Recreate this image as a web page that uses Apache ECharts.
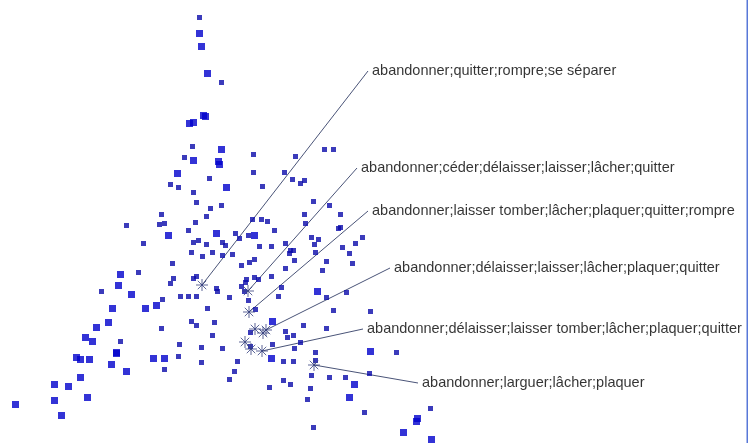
<!DOCTYPE html>
<html>
<head>
<meta charset="utf-8">
<script src="https://cdn.jsdelivr.net/npm/echarts@6/dist/echarts.min.js"></script>
<style>
html,body{margin:0;padding:0;background:#fff;}
#c{width:749px;height:443px;}
</style>
</head>
<body>
<div id="c"></div>
<script>
// Point positions (horizontal position, vertical position from the top)
const largePoints = [
[199,33],[201,46],[207,73],[203,115],[205,116],[189,123],[193,122],[221,149],[193,160],[218,161],[219,164],[177,173],[226,187],
[216,233],[168,235],[254,235],[120,274],[118,285],[131,294],[112,308],[145,308],[156,305],[108,322],[96,327],[85,337],[92,341],
[116,352],[116,353],[76,357],[80,359],[89,359],[111,364],[126,371],[153,358],[164,358],[80,377],[54,384],[68,386],[54,400],
[87,397],[15,404],[61,415],[317,291],[272,321],[271,358],[370,351],[354,384],[349,397],[417,418],[416,421],[403,432],[431,439]
];
const smallPoints = [
[199,17],[221,82],[192,146],[184,157],[253,154],[295,156],[324,149],[333,149],[170,184],[178,187],[209,178],[253,172],[284,172],
[262,186],[292,179],[300,183],[304,180],[193,192],[196,202],[210,208],[221,205],[161,214],[206,216],[313,201],[329,205],[304,214],
[340,214],[252,219],[261,219],[267,221],[274,230],[305,223],[338,228],[340,227],[126,225],[159,224],[164,223],[195,222],[188,230],
[235,233],[248,235],[239,238],[143,243],[193,242],[198,240],[206,244],[222,242],[225,245],[191,252],[202,256],[212,252],[222,255],
[232,254],[259,246],[271,246],[285,243],[311,237],[318,239],[314,244],[290,250],[293,250],[289,253],[294,260],[315,252],[342,247],
[355,243],[362,237],[349,253],[326,261],[352,263],[322,270],[241,265],[249,262],[254,259],[285,268],[271,276],[254,277],[246,279],
[245,282],[241,286],[258,279],[281,287],[216,288],[217,291],[172,263],[138,272],[173,278],[170,283],[193,278],[196,276],[101,291],
[162,299],[180,296],[188,296],[196,296],[229,297],[248,300],[244,291],[255,309],[207,308],[278,296],[326,297],[346,292],
[333,310],[370,311],[161,328],[191,321],[196,325],[214,322],[212,335],[179,344],[178,356],[201,347],[201,362],[222,348],[120,341],
[164,369],[237,361],[234,371],[229,379],[285,331],[287,337],[293,335],[303,325],[326,328],[300,342],[294,348],[272,344],[250,332],
[250,346],[283,361],[293,361],[315,352],[315,360],[311,375],[329,377],[345,377],[369,373],[396,352],[283,380],[290,384],[269,387],
[310,388],[307,399],[364,412],[313,427],[430,408]
];
// Highlighted (asterisk) points
const starPoints = [[202,285],[248,291],[249,312],[255,329],[266,330],[263,333],[245,342],[251,349],[262,351],[314,365]];
// Labelled items: source point, label anchor, text
const labelSources = [[202,285],[248,291],[249,312],[266,330],[262,351],[314,365]];
const labelAnchors = [[368,71],[357,168],[368,211],[390,268],[363,329],[418,383]];
const labelTexts = [
"abandonner;quitter;rompre;se séparer",
"abandonner;céder;délaisser;laisser;lâcher;quitter",
"abandonner;laisser tomber;lâcher;plaquer;quitter;rompre",
"abandonner;délaisser;laisser;lâcher;plaquer;quitter",
"abandonner;délaisser;laisser tomber;lâcher;plaquer;quitter",
"abandonner;larguer;lâcher;plaquer"
];

const chart = echarts.init(document.getElementById('c'), null, {renderer:'canvas'});
const starPath = 'path://M0,6L12,6M6,0L6,12M1.76,1.76L10.24,10.24M10.24,1.76L1.76,10.24';
chart.setOption({
  animation:false,
  backgroundColor:'#ffffff',
  grid:{left:0,right:0,top:0,bottom:0},
  xAxis:{type:'value',min:0,max:749,show:false},
  yAxis:{type:'value',min:0,max:443,inverse:true,show:false},
  graphic:[{type:'rect',right:1,top:0,shape:{width:1.5,height:443},style:{fill:'#5878d8'},silent:true}],
  series:[
    {type:'lines',coordinateSystem:'cartesian2d',silent:true,z:1,
     lineStyle:{color:'#4a5478',width:1,opacity:1},
     data:labelSources.map((s,i)=>({coords:[s,labelAnchors[i]]}))},
    {type:'scatter',symbol:'rect',symbolSize:5,symbolOffset:[0.5,0.5],data:smallPoints,itemStyle:{color:'#0a0aaa'},z:2,silent:true},
    {type:'scatter',symbol:'rect',symbolSize:7,symbolOffset:[0.5,0.5],data:largePoints,itemStyle:{color:'#0000cc'},z:2,silent:true},
    {type:'scatter',symbol:starPath,symbolSize:12,data:starPoints,z:3,silent:true,
     itemStyle:{color:'none',borderColor:'#34407e',borderWidth:1}},
    {type:'scatter',symbolSize:0,z:4,silent:true,
     data:labelAnchors.map((a,i)=>({value:a,name:labelTexts[i]})),
     label:{show:true,position:'right',distance:4,formatter:p=>p.name,color:'#000',
       fontFamily:'"Liberation Sans", Arial, sans-serif',fontSize:14.5}}
  ]
});
</script>
</body>
</html>
